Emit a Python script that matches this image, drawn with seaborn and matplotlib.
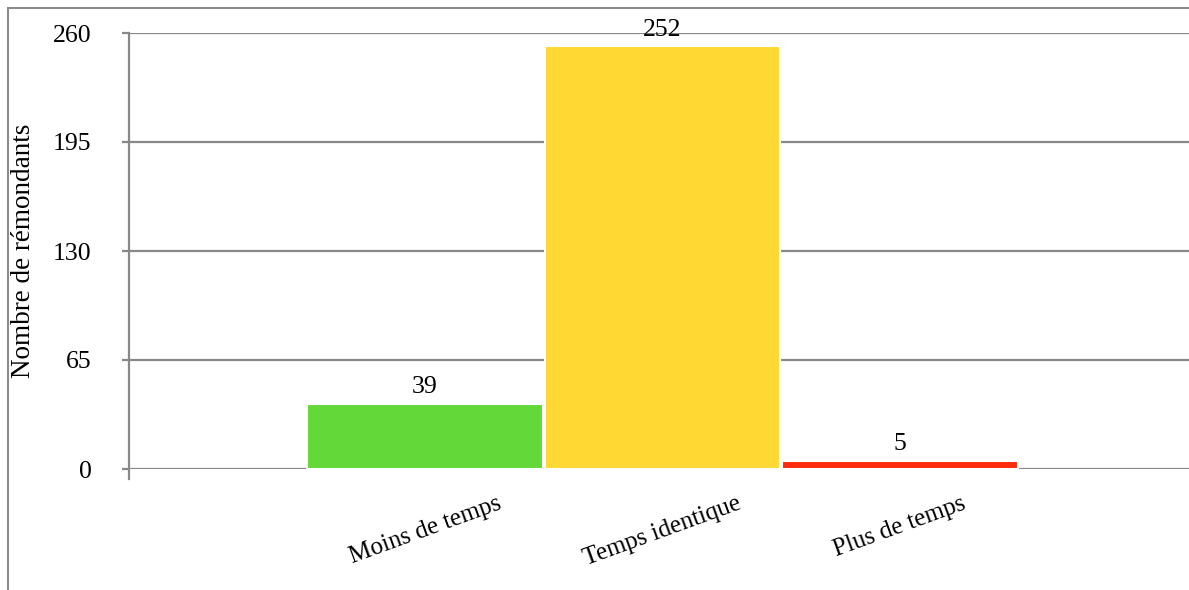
import seaborn as sns
import matplotlib.pyplot as plt
from matplotlib.patches import Rectangle

categories = ["Moins de temps", "Temps identique", "Plus de temps"]
values = [39, 252, 5]
colors = ["#62d938", "#ffd833", "#ff2a0a"]
yticks = [0, 65, 130, 195, 260]

sns.set_style("white")
plt.rcParams['font.family'] = ['Liberation Serif', 'DejaVu Serif']
plt.rcParams['text.color'] = 'black'
plt.rcParams['xtick.color'] = 'black'
plt.rcParams['ytick.color'] = 'black'
plt.rcParams['axes.labelcolor'] = 'black'

fig = plt.figure(figsize=(11.89, 5.90), dpi=100)
ax = fig.add_axes([129 / 1189, 1 - 469 / 590, 1 - 129 / 1189, 436 / 590])

sns.barplot(x=categories, y=values, hue=categories, palette=colors, legend=False,
            saturation=1, width=0.99, edgecolor="white", linewidth=1.5, ax=ax)

ax.set_xlim(-1.246, 3.217)
ax.set_ylim(0, 260)
ax.set_yticks(yticks)
ax.yaxis.grid(True, color="#888888", linewidth=1.6)
ax.set_axisbelow(True)

for s in ["top", "right", "bottom"]:
    ax.spines[s].set_visible(False)
ax.spines["left"].set_color("#888888")
ax.spines["left"].set_linewidth(1.6)
ax.spines["left"].set_bounds(-6, 260)

ax.tick_params(axis="y", length=5, width=1.6, color="#888888", labelcolor="black",
               pad=22, labelsize=18.5, left=True)
ax.tick_params(axis="x", length=0, pad=17, labelsize=18, labelcolor="black")
for lbl in ax.get_xticklabels():
    lbl.set_rotation(20)
    lbl.set_ha("center")

ax.set_ylabel("Nombre de rémondants", fontsize=19.5, labelpad=12, color="black")

for c in ax.containers:
    ax.bar_label(c, fontsize=18.5, padding=4, color="black")

# outer border of the chart area
fig.patches.append(Rectangle((8 / 1189, -0.5), 2.0, 1.5 - 8 / 590, transform=fig.transFigure,
                             fill=False, edgecolor="#8c8c8c", linewidth=1.5, zorder=-1))

fig.savefig("out.png", dpi=100)
